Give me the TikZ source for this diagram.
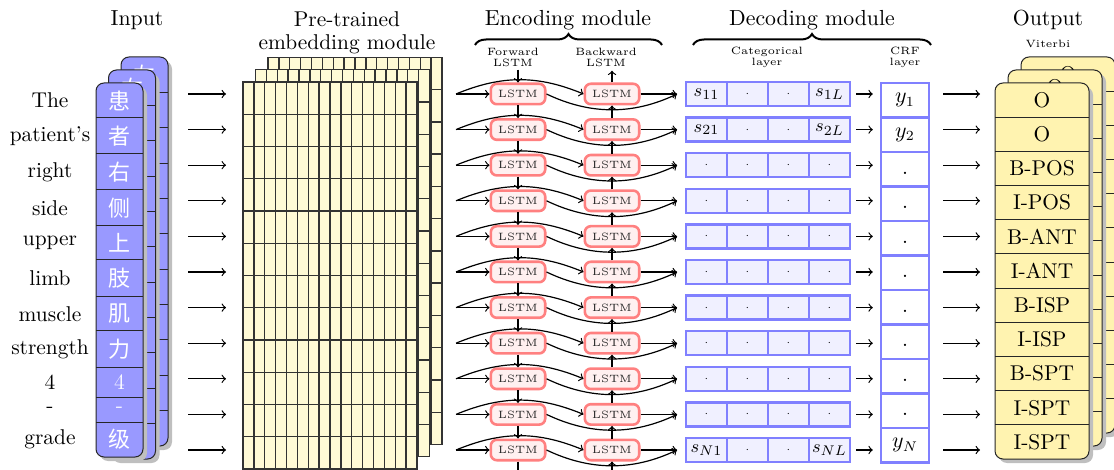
\documentclass[tikz,border=0pt]{standalone}
\usepackage{fontspec}
\newfontfamily\cjk{Noto Sans CJK SC}
\usetikzlibrary{decorations.pathreplacing}
\definecolor{inblue}{RGB}{153,153,255}
\definecolor{gridyel}{RGB}{255,250,214}
\definecolor{outyel}{RGB}{255,243,176}
\definecolor{lstmred}{RGB}{255,128,128}
\definecolor{lstmfill}{RGB}{255,240,240}
\definecolor{catblue}{RGB}{128,128,255}
\definecolor{catfill}{RGB}{240,240,255}
\newcommand\mydot{{\fontsize{5}{6}\selectfont$\cdot$}}
\newcommand\crfdot{\vphantom{Ty}.}
\begin{document}
\begin{tikzpicture}[x=0.5pt,y=-0.5pt,
  font=\fontsize{10.7}{12.8}\selectfont,
  arr/.style={->,line width=0.6pt},
  stackline/.style={line width=0.5pt,draw=black!85},
  gridline/.style={line width=0.65pt,draw=black!80},
  shadowc/.style={fill=black!25},
  incell/.style={text=white,font=\fontsize{11}{13}\cjk,inner sep=0pt},
  outcell/.style={inner sep=0pt},
  small/.style={align=center,font=\fontsize{5.3}{5.5}\selectfont,inner sep=0pt},
  ttl/.style={anchor=base,font=\fontsize{10.9}{13}\selectfont},
  brace/.style={decorate,decoration={brace,amplitude=5.5pt},line width=1pt},
  lstm/.style={draw=lstmred,fill=lstmfill,line width=1.3pt,rounded corners=3pt,
    minimum width=27.2pt,minimum height=10.2pt,inner sep=0pt,
    font=\fontsize{5.3}{6}\selectfont,text=black!85},
  cat/.style={draw=catblue,fill=catfill,line width=1.2pt,minimum width=20.5pt,
    minimum height=12pt,inner sep=0pt,font=\fontsize{9.4}{11}\selectfont},
  crf/.style={draw=catblue,fill=white,line width=1.2pt,minimum width=24pt,
    minimum height=17.25pt,inner sep=0pt}
]
\useasboundingbox (0,0) rectangle (1114,470);

% ---------------- Input ----------------
\node[ttl] (tin) at (137,26) {Input};
\foreach \x/\t/\b/\ch [count=\s] in {121/57/446/左,108.5/70/459/右}{
  \fill[shadowc,rounded corners=4pt] (\x+4,\t+4) rectangle (\x+51,\b+4);
  \draw[stackline,fill=inblue,rounded corners=4pt] (\x,\t) rectangle (\x+47,\b);
  \foreach \k in {1,...,10} \draw[stackline] (\x,{\t+\k*(\b-\t)/11}) -- ++(47,0);
  \node[incell] (inback\s) at (\x+23.5,{\t+(\b-\t)/22}) {\ch};
}
\fill[shadowc,rounded corners=4pt] (100,87) rectangle (147,461);
\draw[stackline,fill=inblue,rounded corners=4pt] (96,83) rectangle (143,457);
\foreach \y in {118,154,190,226,260,297,331,367,397,422} \draw[stackline] (96,\y) -- (143,\y);
\foreach \t/\b/\ch/\w [count=\i] in {83/118/患/The,118/154/者/patient’s,154/190/右/right,190/226/侧/side,226/260/上/upper,260/297/肢/limb,297/331/肌/muscle,331/367/力/strength,367/397/{\normalfont 4}/4,397/422/{\normalfont -}/-,422/457/级/grade}{
  \node[incell] (in\i) at (119.5,{(\t+\b)/2}) {\ch};
  \node (w\i) at (50,{(\t+\b)/2}) {\w};
}
\foreach \i in {0,...,10}{
  \pgfmathsetmacro\y{94+35.6*\i}
  \coordinate (ia\i) at (188,\y);
  \coordinate (ib\i) at (226,\y);
  \draw[arr] (ia\i) -- (ib\i);
}

% ---------------- Embedding ----------------
\node[align=center] (temb) at (347,33) {Pre-trained\\[-1.5pt]embedding module};
\foreach \dx/\dy in {25/-24.6,12.5/-12.3,0/0}{
  \begin{scope}[shift={(\dx,\dy)}]
    \fill[gridyel] (243,82) rectangle (417,469);
    \foreach \k in {1,...,15} \draw[gridline] ({243+\k*10.875},82) -- ++(0,387);
    \foreach \k in {1,...,11} \draw[gridline] (243,{82+\k*32.25}) -- ++(174,0);
    \draw[gridline] (243,82) rectangle (417,469);
  \end{scope}
}

% ---------------- Encoding ----------------
\node[ttl] (tenc) at (568,26) {Encoding module};
\draw[brace] (475,45) -- (662,45);
\node[small] (fw) at (513,57) {Forward\\LSTM};
\node[small] (bw) at (606,57) {Backward\\LSTM};
\foreach \i in {0,...,10}{
  \pgfmathsetmacro\y{94+35.6*\i}
  \coordinate (L\i) at (456,\y);
  \coordinate (R\i) at (677,\y);
  \node[lstm] (F\i) at (518,\y) {LSTM};
  \node[lstm] (B\i) at (612,\y) {LSTM};
  \draw[arr] (L\i) -- (F\i);
  \draw[arr] (L\i) .. controls +(46,-19) and +(-46,-19) .. (B\i.west);
  \draw[arr] (F\i.east) .. controls +(44,21) and +(-44,21) .. (R\i);
  \draw[arr] (B\i) -- (R\i);
}
\foreach \i [evaluate=\i as \j using int(\i+1)] in {0,...,9}{
  \draw[arr] (F\i) -- (F\j);
  \draw[arr] (B\j) -- (B\i);
}
\draw[arr,shorten <=1.5pt] (fw.south -| F0) -- (F0.north);
\draw[arr,shorten >=2pt] (B0.north) -- (bw.south -| B0);
\coordinate (fend) at (518,476);
\coordinate (bstart) at (612,474);
\draw[arr] (F10) -- (fend);
\draw[arr] (bstart) -- (B10);

% ---------------- Decoding ----------------
\node[ttl] (tdec) at (812,26) {Decoding module};
\draw[brace] (693,45) -- (931,45);
\node[small] (tcat) at (767,57) {Categorical\\layer};
\node[small] (tcrf) at (905,57) {CRF\\layer};
\foreach \i/\a/\b/\c/\d/\q in {0/$s_{11}$/\mydot/\mydot/$s_{1L}$/$y_1$,1/$s_{21}$/\mydot/\mydot/$s_{2L}$/$y_2$,2/\mydot/\mydot/\mydot/\mydot/\crfdot,3/\mydot/\mydot/\mydot/\mydot/\crfdot,4/\mydot/\mydot/\mydot/\mydot/\crfdot,5/\mydot/\mydot/\mydot/\mydot/\crfdot,6/\mydot/\mydot/\mydot/\mydot/\crfdot,7/\mydot/\mydot/\mydot/\mydot/\crfdot,8/\mydot/\mydot/\mydot/\mydot/\crfdot,9/\mydot/\mydot/\mydot/\mydot/\crfdot,10/$s_{N1}$/\mydot/\mydot/$s_{NL}$/$y_N$}{
  \pgfmathsetmacro\y{94+35.6*\i}
  \node[cat] (K\i-1) at (706.5,\y) {\a};
  \node[cat] (K\i-2) at (747.5,\y) {\b};
  \node[cat] (K\i-3) at (788.5,\y) {\c};
  \node[cat] (K\i-4) at (829.5,\y) {\d};
  \node[crf] (Q\i) at (905,{100.25+34.5*\i}) {\q};
  \draw[arr,shorten <=2.5pt,shorten >=3.5pt] (K\i-4.east) -- (K\i-4.east -| Q\i.west);
  \coordinate (oa\i) at (943,\y);
  \coordinate (ob\i) at (980,\y);
  \draw[arr] (oa\i) -- (ob\i);
}

% ---------------- Output ----------------
\node[ttl] (tout) at (1048,26) {Output};
\node[small] (tvit) at (1048,44) {Viterbi};
\foreach \dx [count=\s] in {26,13}{
  \fill[shadowc,rounded corners=4pt] ({995+\dx+4},{83-\dx+4}) rectangle ({1089+\dx+4},{459-\dx+4});
  \draw[stackline,fill=outyel,rounded corners=4pt] ({995+\dx},{83-\dx}) rectangle ({1089+\dx},{459-\dx});
  \foreach \k in {1,...,10} \draw[stackline] ({995+\dx},{83-\dx+\k*34.18}) -- ++(94,0);
  \node[outcell] (outback\s) at ({1042+\dx},{100-\dx}) {O};
}
\fill[shadowc,rounded corners=4pt] (999,87) rectangle (1093,463);
\draw[stackline,fill=outyel,rounded corners=4pt] (995,83) rectangle (1089,459);
\foreach \k in {1,...,10} \draw[stackline] (995,{83+\k*34.18}) -- ++(94,0);
\foreach \lab [count=\i from 0] in {O,O,B-POS,I-POS,B-ANT,I-ANT,B-ISP,I-ISP,B-SPT,I-SPT,I-SPT}{
  \node[outcell] (O\i) at (1042,{100.1+34.18*\i}) {\lab};
}
\end{tikzpicture}
\end{document}
